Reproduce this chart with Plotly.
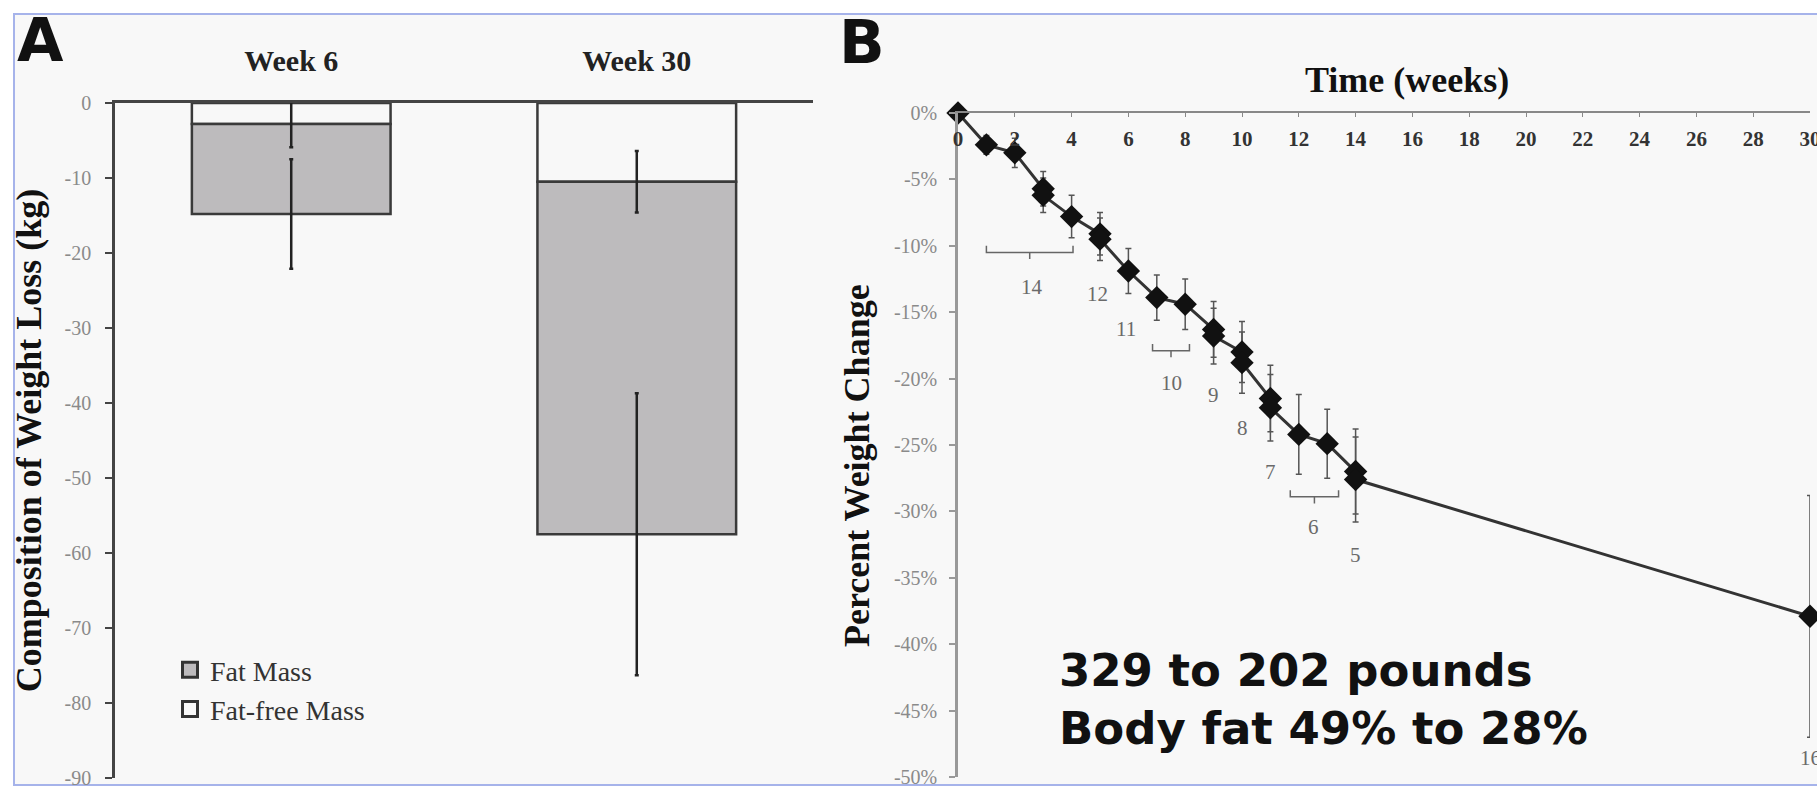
import plotly.graph_objects as go

W, H = 1817, 786

# ---------------- Panel A data ----------------
weeks_a = ["Week 6", "Week 30"]
fat_free_mass = [-2.8, -10.5]
fat_mass = [-12.0, -47.0]
fat_free_err = [3.1, 4.1]
total_err = [7.3, 18.8]
a_tickvals = [0, -10, -20, -30, -40, -50, -60, -70, -80, -90]
a_ticktext = ["0", "-10", "-20", "-30", "-40", "-50", "-60", "-70", "-80", "-90"]

# ---------------- Panel B data ----------------
b_weeks = [0, 1, 2, 3, 3, 4, 5, 5, 6, 7, 8, 9, 9, 10, 10, 11, 11, 12, 13, 14, 14, 30]
b_pct = [0, -2.4, -3.0, -5.7, -6.2, -7.8, -9.1, -9.5, -11.9, -13.9, -14.4, -16.3, -16.8,
         -18.0, -18.8, -21.5, -22.2, -24.2, -24.9, -27.0, -27.6, -37.9]
b_err = [0, 0.7, 1.1, 1.3, 1.3, 1.6, 1.6, 1.6, 1.7, 1.7, 1.9, 2.1, 2.1,
         2.3, 2.3, 2.5, 2.5, 3.0, 2.6, 3.2, 3.2, 9.1]
b_xticks = list(range(0, 31, 2))
b_yticks = [0, -5, -10, -15, -20, -25, -30, -35, -40, -45, -50]
b_yticktext = ["0%", "-5%", "-10%", "-15%", "-20%", "-25%", "-30%", "-35%", "-40%", "-45%", "-50%"]
n_labels = ["14", "12", "11", "10", "9", "8", "7", "6", "5", "16"]
n_label_x = [2.6, 4.9, 5.9, 7.5, 9.0, 10.0, 11.0, 12.5, 14.0, 30.0]
n_label_y = [-13.1, -13.6, -16.3, -20.3, -21.2, -23.7, -27.0, -31.2, -33.3, -48.6]
bracket_x0 = [1.0, 6.85, 11.7]
bracket_x1 = [4.05, 8.15, 13.4]
bracket_y = [-10.5, -17.9, -28.9]

SERIF = "Liberation Serif"
SANS = "DejaVu Sans"
FAT_COLOR = "#bdbbbd"
FFM_COLOR = "#f8f8f8"
EDGE = "#3a3a3a"

fig = go.Figure()

# stacked bars (fat-free on top, fat below)
fig.add_trace(go.Bar(
    x=weeks_a, y=fat_free_mass, name="Fat-free Mass", width=0.575,
    marker=dict(color=FFM_COLOR, line=dict(color=EDGE, width=2.5)),
    xaxis="x", yaxis="y", showlegend=False))
fig.add_trace(go.Bar(
    x=weeks_a, y=fat_mass, name="Fat Mass", width=0.575,
    marker=dict(color=FAT_COLOR, line=dict(color=EDGE, width=2.5)),
    xaxis="x", yaxis="y", showlegend=False))

ffm_center = list(fat_free_mass)
total_center = [a + b for a, b in zip(fat_free_mass, fat_mass)]
for centers, errs in ((ffm_center, fat_free_err), (total_center, total_err)):
    fig.add_trace(go.Scatter(
        x=weeks_a, y=centers, mode="markers",
        marker=dict(size=1, color="rgba(0,0,0,0)"),
        error_y=dict(type="data", array=errs, color="#222222", thickness=2.5, width=2),
        showlegend=False, hoverinfo="skip", xaxis="x", yaxis="y"))

# legend entries (square swatches)
for name, col in (("Fat Mass", FAT_COLOR), ("Fat-free Mass", FFM_COLOR)):
    fig.add_trace(go.Scatter(
        x=[None], y=[None], mode="markers", name=name,
        marker=dict(symbol="square", size=15, color=col, line=dict(color="#333", width=3)),
        xaxis="x", yaxis="y"))

# panel B line
fig.add_trace(go.Scatter(
    x=b_weeks, y=b_pct, mode="lines+markers",
    line=dict(color="#333333", width=3),
    marker=dict(symbol="diamond", size=18, color="#111111"),
    error_y=dict(type="data", array=b_err, color="#555555", thickness=1.5, width=3),
    cliponaxis=False, showlegend=False, xaxis="x2", yaxis="y2"))

shapes = [dict(type="rect", xref="paper", yref="paper",
               x0=14 / W, x1=1.01, y0=1 / H, y1=(H - 14) / H,
               fillcolor="#f8f8f8", line=dict(color="#a6b3ea", width=2), layer="below")]
for x0, x1, y in zip(bracket_x0, bracket_x1, bracket_y):
    xm = (x0 + x1) / 2
    shapes.append(dict(type="path", xref="x2", yref="y2",
                       path=f"M{x0},{y + 0.5} L{x0},{y} L{x1},{y} L{x1},{y + 0.5} M{xm},{y} L{xm},{y - 0.5}",
                       line=dict(color="#666666", width=1.5)))

annotations = [
    dict(text="A", xref="paper", yref="paper", x=40 / W, y=(H - 40) / H, showarrow=False,
         xanchor="center", yanchor="middle", font=dict(family=SANS, size=60, color="#111", weight="bold")),
    dict(text="B", xref="paper", yref="paper", x=862 / W, y=(H - 42) / H, showarrow=False,
         xanchor="center", yanchor="middle", font=dict(family=SANS, size=60, color="#111", weight="bold")),
    dict(text="Time (weeks)", xref="paper", yref="paper", x=1407 / W, y=(H - 80) / H,
         showarrow=False, xanchor="center", yanchor="middle",
         font=dict(family=SERIF, size=36, color="#111", weight="bold")),
    dict(text="Percent Weight Change", xref="paper", yref="paper", x=857 / W, y=(H - 466) / H,
         showarrow=False, xanchor="center", yanchor="middle", textangle=-90,
         font=dict(family=SERIF, size=36, color="#111", weight="bold")),
    dict(text="329 to 202 pounds", xref="paper", yref="paper", x=1057 / W, y=(H - 670) / H,
         showarrow=False, xanchor="left", yanchor="middle",
         font=dict(family=SANS, size=45, color="#111", weight="bold")),
    dict(text="Body fat 49% to 28%", xref="paper", yref="paper", x=1057 / W, y=(H - 728) / H,
         showarrow=False, xanchor="left", yanchor="middle",
         font=dict(family=SANS, size=45, color="#111", weight="bold")),
]
for t, x, y in zip(n_labels, n_label_x, n_label_y):
    annotations.append(dict(text=t, x=x, y=y, xref="x2", yref="y2", showarrow=False,
                            xanchor="center", yanchor="middle",
                            font=dict(family=SERIF, size=21, color="#6a6a6a")))

fig.update_layout(
    width=W, height=H, autosize=False,
    margin=dict(l=0, r=0, t=0, b=0, pad=0),
    paper_bgcolor="white", plot_bgcolor="rgba(0,0,0,0)",
    font=dict(family=SERIF, color="#222"),
    barmode="relative", bargap=0.4,
    showlegend=True,
    legend=dict(x=170 / W, y=(H - 645) / H, xanchor="left", yanchor="top",
                bgcolor="rgba(0,0,0,0)", font=dict(family=SERIF, size=28, color="#333"),
                traceorder="normal", itemsizing="trace"),
    xaxis=dict(domain=[115 / W, 813 / W], anchor="y", side="top", type="category",
               range=[-0.51, 1.51], showline=True, linecolor="#444", linewidth=2.5,
               ticks="", showgrid=False, zeroline=False, ticklabelstandoff=17, automargin=False,
               tickfont=dict(family=SERIF, size=30, color="#222", weight="bold")),
    yaxis=dict(domain=[(H - 778) / H, (H - 103) / H], anchor="x", range=[-90, 0],
               tickvals=a_tickvals, ticktext=a_ticktext, ticks="outside", ticklen=7,
               tickwidth=2, tickcolor="#444", showline=True, linecolor="#444", linewidth=2.5,
               showgrid=False, zeroline=False, ticklabelstandoff=10, ticklabeloverflow="allow",
               automargin=False,
               tickfont=dict(family=SERIF, size=20, color="#8a8a8a"),
               title=dict(text="Composition of Weight Loss (kg)", standoff=12,
                          font=dict(family=SERIF, size=36, color="#111", weight="bold"))),
    xaxis2=dict(domain=[958 / W, 1810 / W], anchor="y2", side="top", range=[0, 30],
                tickvals=b_xticks, ticks="inside", ticklen=4, tickcolor="#888",
                showline=True, linecolor="#888", linewidth=2, showgrid=False, zeroline=False,
                ticklabelposition="inside", ticklabelstandoff=16, ticklabeloverflow="allow",
                automargin=False,
                tickfont=dict(family=SERIF, size=21, color="#333", weight="bold")),
    yaxis2=dict(domain=[(H - 777) / H, (H - 113) / H], anchor="x2", range=[-50, 0],
                tickvals=b_yticks, ticktext=b_yticktext, ticks="outside", ticklen=6,
                tickwidth=2, tickcolor="#999", showline=True, linecolor="#999", linewidth=2.5,
                showgrid=False, zeroline=False, ticklabelstandoff=8, ticklabeloverflow="allow",
                automargin=False,
                tickfont=dict(family=SERIF, size=20, color="#8a8a8a")),
    shapes=shapes, annotations=annotations,
)

fig.write_html("out.html")
